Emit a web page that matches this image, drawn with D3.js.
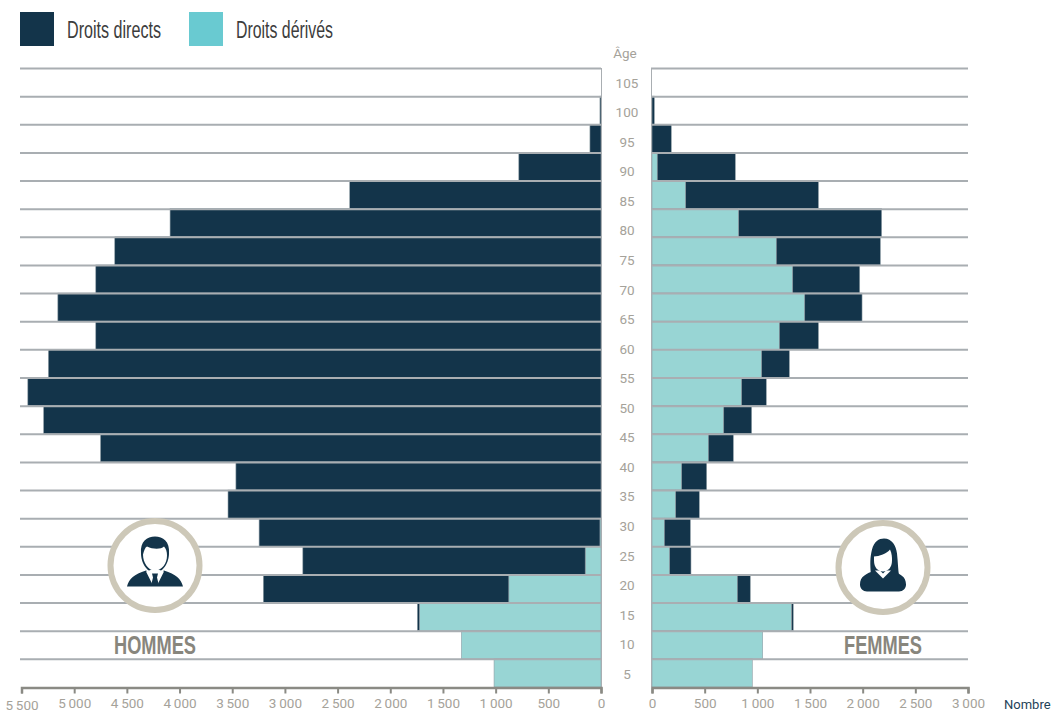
<!DOCTYPE html>
<html>
<head>
<meta charset="utf-8">
<script src="https://cdnjs.cloudflare.com/ajax/libs/d3/7.8.5/d3.min.js"></script>
<style>
html, body { margin: 0; padding: 0; background: #fff; }
svg { display: block; }
text { font-family: Roboto, sans-serif; }
.tick text, .age { font-size: 13.5px; font-weight: 400; fill: #a5a29a; }
.legende { font-family: "Liberation Sans Narrow", sans-serif; font-size: 23px; fill: #3c3c3c; }
.sexe { font-family: "Liberation Sans Narrow", sans-serif; font-size: 25px; font-weight: bold; fill: #88867d; }
</style>
</head>
<body>
<svg id="chart" width="1053" height="712"></svg>
<script>
// labels of the age column (not aligned on the rows, same as the source)
var ages = [105, 100, 95, 90, 85, 80, 75, 70, 65, 60, 55, 50, 45, 40, 35, 30, 25, 20, 15, 10, 5];

// values per row, from top to bottom
var hommesDerives = [0, 0, 0, 0, 0, 0, 0, 0, 0, 0, 0, 0, 0, 0, 0, 0, 10, 150, 875, 1724, 1325, 1015];
var hommesDirects = [0, 10, 105, 780, 2385, 4090, 4615, 4795, 5155, 4795, 5245, 5440, 5290, 4750, 3465, 3540, 3235, 2680, 2330, 19, 0, 0];
var femmesDerives = [0, 0, 0, 50, 320, 823, 1180, 1336, 1450, 1209, 1041, 851, 681, 535, 282, 225, 117, 168, 810, 1326, 1051, 952];
var femmesDirects = [0, 22, 183, 741, 1260, 1357, 988, 636, 544, 371, 263, 234, 265, 237, 237, 224, 247, 202, 123, 15, 0, 0];

var ticksHommes = [5500, 5000, 4500, 4000, 3500, 3000, 2500, 2000, 1500, 1000, 500, 0];
var ticksFemmes = [0, 500, 1000, 1500, 2000, 2500, 3000];

var couleurs = { directs: "#13344a", derives: "#98d5d4", legende: "#69cad1", grille: "#a9aeb2", bord: "#8f9ea6", axe: "#8a8a84", cercle: "#cdc8b8" };

var svg = d3.select("#chart"),
  rows = d3.range(hommesDirects.length),
  yHaut = 68,
  yBas = 687,
  y = d3.scaleBand().domain(rows).range([yHaut, yBas]),
  xH = d3.scaleLinear().domain([5500, 0]).range([21.5, 601]),
  xF = d3.scaleLinear().domain([0, 3000]).range([652, 968]),
  yAge = d3.scalePoint().domain(ages).range([83, 674]),
  fr = d3.formatLocale({ decimal: ",", thousands: "\u2009", grouping: [3], currency: ["", ""] }),
  fmt = fr.format(",");

function barres(g, x, derives, directs) {
  var zero = x(0);
  function larg(v) { return Math.abs(x(v) - zero); }
  var side = x(1) > zero ? 1 : -1;

  g.selectAll(".derive").data(rows).join("rect")
    .attr("class", "derive")
    .attr("x", function(d) { return side > 0 ? zero : x(derives[d]); })
    .attr("y", function(d) { return y(d); })
    .attr("width", function(d) { return larg(derives[d]); })
    .attr("height", y.bandwidth())
    .attr("fill", couleurs.derives)
    .attr("stroke", function(d) { return derives[d] ? couleurs.bord : "none"; })
    .attr("stroke-width", 0.6);

  g.selectAll(".direct").data(rows).join("rect")
    .attr("class", "direct")
    .attr("x", function(d) { return side > 0 ? x(derives[d]) : x(derives[d] + directs[d]); })
    .attr("y", function(d) { return y(d); })
    .attr("width", function(d) { return larg(directs[d]); })
    .attr("height", y.bandwidth())
    .attr("fill", couleurs.directs)
    .attr("stroke", function(d) { return directs[d] ? couleurs.bord : "none"; })
    .attr("stroke-width", 0.6);
}

function grille(g, x0, x1) {
  g.selectAll("line").data(rows).join("line")
    .attr("x1", x0)
    .attr("x2", x1)
    .attr("y1", function(d) { return y(d) + 0.5; })
    .attr("y2", function(d) { return y(d) + 0.5; })
    .attr("stroke", couleurs.grille)
    .attr("stroke-width", 2);
}

function axe(x, ticks) {
  var g = svg.append("g")
    .attr("transform", "translate(0," + (yBas + 0.5) + ")")
    .call(d3.axisBottom(x).tickValues(ticks).tickFormat(fmt).tickSize(6).tickPadding(5));
  g.select(".domain").attr("stroke", couleurs.axe).attr("stroke-width", 2.5);
  g.selectAll(".tick line").attr("stroke", couleurs.axe).attr("stroke-width", 2);
  return g;
}

barres(svg.append("g"), xH, hommesDerives, hommesDirects);
barres(svg.append("g"), xF, femmesDerives, femmesDirects);

grille(svg.append("g"), 20, 601);
grille(svg.append("g"), 651, 968);

// thin vertical base of both pyramids
svg.append("line").attr("x1", 601.5).attr("x2", 601.5).attr("y1", yHaut).attr("y2", yBas).attr("stroke", couleurs.grille);
svg.append("line").attr("x1", 651.5).attr("x2", 651.5).attr("y1", yHaut).attr("y2", yBas).attr("stroke", couleurs.grille);

var axeH = axe(xH, ticksHommes);
axe(xF, ticksFemmes);
// the first label sits a bit lower in the source
axeH.selectAll(".tick text").filter(function(d) { return d === 5500; }).attr("dy", "0.82em");

svg.selectAll(".age").data(ages).join("text")
  .attr("class", "age")
  .attr("x", 627)
  .attr("y", function(d) { return yAge(d); })
  .attr("dy", "0.35em")
  .attr("text-anchor", "middle")
  .text(function(d) { return d; });

svg.append("text").attr("class", "age").attr("x", 625).attr("y", 53).attr("dy", "0.35em")
  .attr("text-anchor", "middle").text("Âge");
svg.append("text").attr("x", 1004).attr("y", 709).attr("font-size", 13).attr("font-weight", 400)
  .attr("fill", "#1f4258").text("Nombre");

// legend
svg.append("rect").attr("x", 20).attr("y", 12).attr("width", 34).attr("height", 34).attr("fill", couleurs.directs);
svg.append("rect").attr("x", 189).attr("y", 12).attr("width", 34).attr("height", 34).attr("fill", couleurs.legende);
svg.append("text").attr("class", "legende").attr("x", 67).attr("y", 38)
  .attr("textLength", 94).attr("lengthAdjust", "spacingAndGlyphs").text("Droits directs");
svg.append("text").attr("class", "legende").attr("x", 236).attr("y", 38)
  .attr("textLength", 97).attr("lengthAdjust", "spacingAndGlyphs").text("Droits dérivés");

// icons
function rond(cx, cy) {
  var g = svg.append("g").attr("transform", "translate(" + cx + "," + cy + ")");
  g.append("circle").attr("r", 44.5).attr("fill", "#fff").attr("stroke", couleurs.cercle).attr("stroke-width", 6);
  return g;
}

var homme = rond(155, 565.5);
homme.append("path").attr("fill", couleurs.directs)
  .attr("d", "M-14,-12C-15,-24 -8,-29 0,-29C8,-29 15,-24 14,-12C14,-4 9,7 0,7C-9,7 -14,-4 -14,-12Z");
homme.append("path").attr("fill", "#fff")
  .attr("d", "M-12,-11C-11,-15 -10,-18 -8,-19C-2,-16 6,-16 9,-19C11,-17 12,-14 12,-10C12,-2 7,5 0,5C-7,5 -12,-3 -12,-11Z");
homme.append("path").attr("fill", couleurs.directs)
  .attr("d", "M-28,21C-26,13 -21,9 -9,5L0,10L9,5C21,9 26,13 28,21Z");
homme.append("path").attr("fill", "#fff").attr("d", "M-9,6L-3,4L3,4L9,6L3,18L-3,18Z");
homme.append("path").attr("fill", couleurs.directs).attr("d", "M-3,8L3,8L2,12L3.5,18L0,20L-3.5,18L-2,12Z");

var femme = rond(883, 567.5);
femme.append("path").attr("fill", couleurs.directs)
  .attr("d", "M-12,8C-13,-4 -13,-10 -11,-18C-9,-26 -4,-29 1,-29C9,-29 13,-22 14,-14C15,-5 15,2 16,8Z");
femme.append("path").attr("fill", couleurs.directs)
  .attr("d", "M-23,17C-23,9 -17,6 -8,3L0,9L8,3C17,6 23,9 23,17C23,21 20,24 16,24L-16,24C-20,24 -23,21 -23,17Z");
femme.append("path").attr("fill", "#fff")
  .attr("d", "M-9,-11C-4,-11 4,-14 7,-18C9,-14 9,-10 9,-7C9,0 5,4 0,4C-5,4 -9,0 -9,-7Z");
femme.append("path").attr("fill", "#fff").attr("d", "M-8,3L-3,3L0,6L3,3L8,3L0,11Z");

svg.append("text").attr("class", "sexe").attr("x", 114).attr("y", 654)
  .attr("textLength", 82).attr("lengthAdjust", "spacingAndGlyphs").text("HOMMES");
svg.append("text").attr("class", "sexe").attr("x", 844).attr("y", 654)
  .attr("textLength", 78).attr("lengthAdjust", "spacingAndGlyphs").text("FEMMES");
</script>
</body>
</html>
